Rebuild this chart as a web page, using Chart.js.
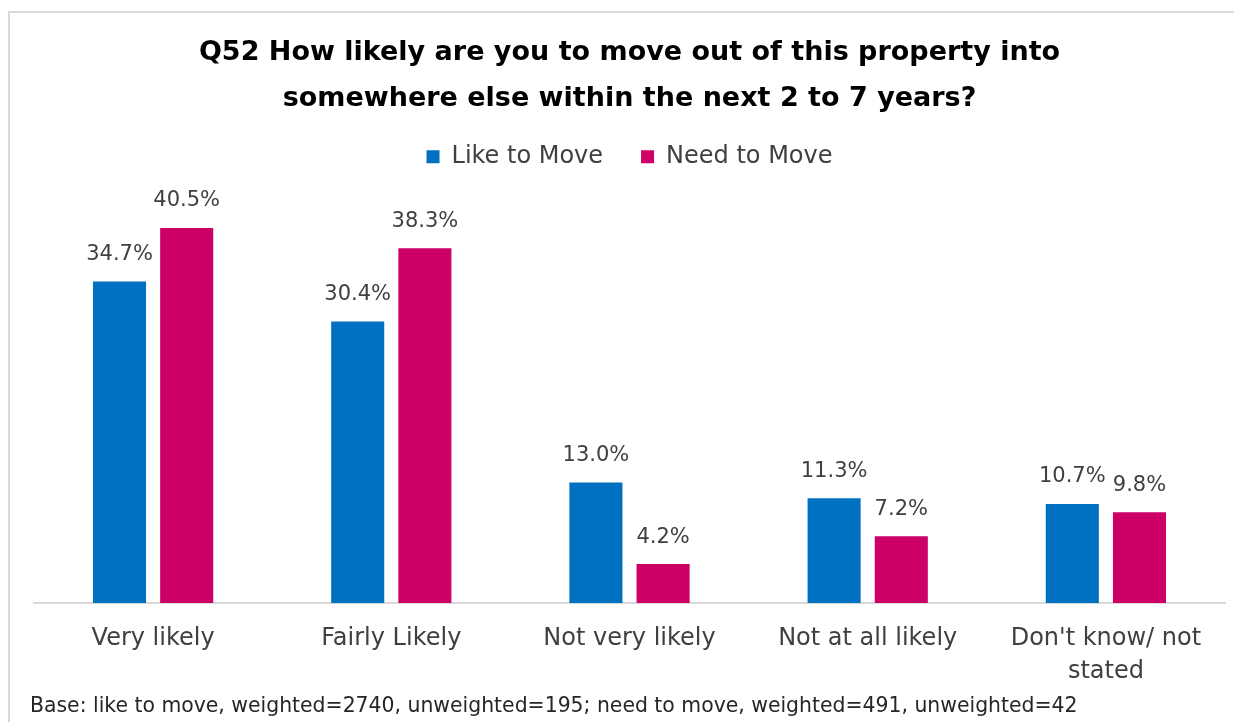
<!DOCTYPE html>
<html>
<head>
<meta charset="utf-8">
<script src="https://cdn.jsdelivr.net/npm/chart.js@4/dist/chart.umd.min.js"></script>
<style>
  html, body { margin: 0; padding: 0; background: #fff; }
  #frame {
    position: absolute; left: 8px; top: 11px; width: 1240px; height: 730px;
    border: 2px solid #d9d9d9; box-sizing: border-box;
  }
  #wrap { position: absolute; left: 0; top: 0; width: 1234px; height: 722px; }
  #base {
    position: absolute; left: 30px; top: 693px; white-space: nowrap;
    font: 20.4px 'DejaVu Sans', sans-serif; line-height: 24px; color: #262626;
  }
</style>
</head>
<body>
<div id="frame"></div>
<div id="wrap"><canvas id="chartCanvas"></canvas></div>
<div id="base">Base: like to move, weighted=2740, unweighted=195; need to move, weighted=491, unweighted=42</div>
<script>
const categories = ["Very likely", "Fairly Likely", "Not very likely", "Not at all likely", ["Don't know/ not", "stated"]];
const likeToMove = [34.7, 30.4, 13.0, 11.3, 10.7];
const needToMove = [40.5, 38.3, 4.2, 7.2, 9.8];

const FONT = "'DejaVu Sans', sans-serif";

// writes the percentage above every bar
const barLabels = {
  id: "barLabels",
  afterDatasetsDraw(chart) {
    const ctx = chart.ctx;
    ctx.save();
    ctx.font = "21px " + FONT;
    ctx.fillStyle = "#404040";
    ctx.textAlign = "center";
    ctx.textBaseline = "middle";
    chart.data.datasets.forEach((ds, i) => {
      chart.getDatasetMeta(i).data.forEach((bar, j) => {
        ctx.fillText(ds.data[j].toFixed(1) + "%", bar.x, bar.y - 27);
      });
    });
    ctx.restore();
  }
};

const ctx = document.getElementById("chartCanvas").getContext("2d");
new Chart(ctx, {
  type: "bar",
  data: {
    labels: categories,
    datasets: [
      { label: "Like to Move", data: likeToMove, backgroundColor: "#0070c0" },
      { label: "Need to Move", data: needToMove, backgroundColor: "#cc0066" }
    ]
  },
  options: {
    responsive: true,
    maintainAspectRatio: false,
    animation: false,
    layout: { padding: { left: 34, right: 9, top: 30, bottom: 23 } },
    datasets: { bar: { categoryPercentage: 0.564, barPercentage: 0.79 } },
    plugins: {
      title: {
        display: true,
        text: ["Q52 How likely are you to move out of this property into", "somewhere else within the next 2 to 7 years?"],
        color: "#000",
        font: { family: FONT, size: 27, weight: "bold", lineHeight: 1.7 },
        padding: { top: 0, bottom: -15 }
      },
      legend: {
        position: "top",
        labels: {
          color: "#404040",
          font: { family: FONT, size: 24 },
          boxWidth: 13, boxHeight: 13, padding: 38
        }
      },
      tooltip: { enabled: false }
    },
    scales: {
      x: {
        grid: { display: false },
        border: { display: true, color: "#d9d9d9", width: 2 },
        ticks: { color: "#404040", font: { family: FONT, size: 24, lineHeight: 1.375 }, padding: 11, maxRotation: 0 }
      },
      y: { display: false, min: 0, max: 45.8 }
    }
  },
  plugins: [barLabels]
});
</script>
</body>
</html>
